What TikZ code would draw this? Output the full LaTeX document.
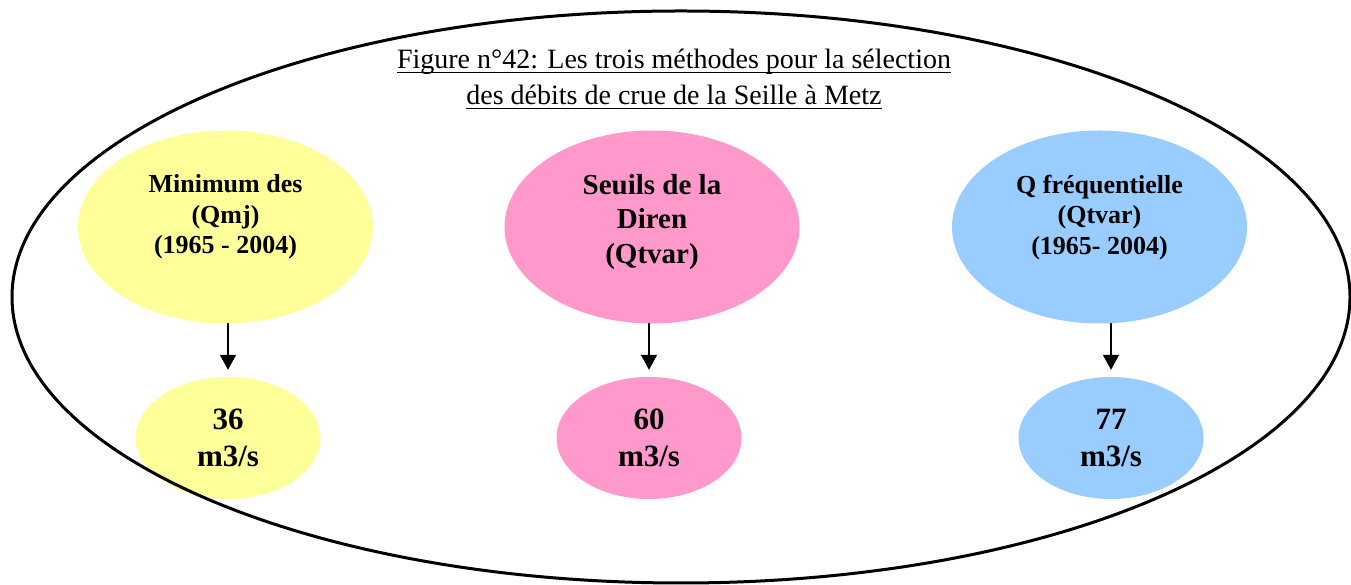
\documentclass[tikz,border=0pt]{standalone}
\usepackage{fontspec}
\setmainfont{Liberation Serif}
\usetikzlibrary{shapes.geometric,arrows.meta}

\definecolor{jaune}{HTML}{FFFF99}
\definecolor{rose}{HTML}{FF99CC}
\definecolor{bleu}{HTML}{99CCFF}
% soulignement a hauteur fixe
\newcommand{\souligne}[1]{{\setbox0\hbox{#1}\rlap{\rule[-4.5pt]{\wd0}{1.4pt}}\box0}}

\begin{document}
\begin{tikzpicture}[x=1pt,y=1pt, line join=round, line cap=round,
	haut/.style={ellipse, minimum width=295pt, minimum height=193pt, inner sep=0pt},
	bas/.style={ellipse, minimum width=185pt, minimum height=122pt, inner sep=0pt, align=center, font=\bfseries\fontsize{31}{37}\selectfont},
	txt/.style={align=center, font=\bfseries\fontsize{26}{30.5}\selectfont},
	fleche/.style={-{Triangle[length=15pt,width=16pt]}, line width=1.8pt, shorten >=7pt}]
	\useasboundingbox (0,0) rectangle (1351,585);
	\def\yh{358} \def\yb{147} % hauteurs des deux rangees

	% methodes
	\node[haut, fill=jaune] (m1) at (225.5,\yh) {};
	\node[haut, fill=rose] (m2) at (652,\yh) {};
	\node[haut, fill=bleu] (m3) at (1099.5,\yh) {};
	\node[txt] (t1) at (225.5,368) {Minimum des\\(Qmj)\\(1965 - 2004)};
	\node[txt, font=\bfseries\fontsize{29}{34.5}\selectfont] (t2) at (652,363) {Seuils de la\\Diren\\(Qtvar)};
	\node[txt] (t3) at (1099.5,367.5) {Q fréquentielle\\(Qtvar)\\(1965- 2004)};

	% debits
	\node[bas, fill=jaune] (r1) at (228,\yb) {36\\m3/s};
	\node[bas, fill=rose] (r2) at (649,\yb) {60\\m3/s};
	\node[bas, fill=bleu] (r3) at (1111,\yb) {77\\m3/s};

	\foreach \i in {1,2,3}
		\draw[fleche] (r\i.north |- m\i.south) -- (r\i.north);

	% titre et cadre
	\node[anchor=north, align=center, font=\fontsize{28}{36}\selectfont] (titre) at (674,539)
		{\souligne{Figure n°42: Les trois méthodes pour la sélection}\\\souligne{des débits de crue de la Seille à Metz}};
	\draw[line width=3pt] (681,288) ellipse [x radius=669, y radius=286];
\end{tikzpicture}
\end{document}
